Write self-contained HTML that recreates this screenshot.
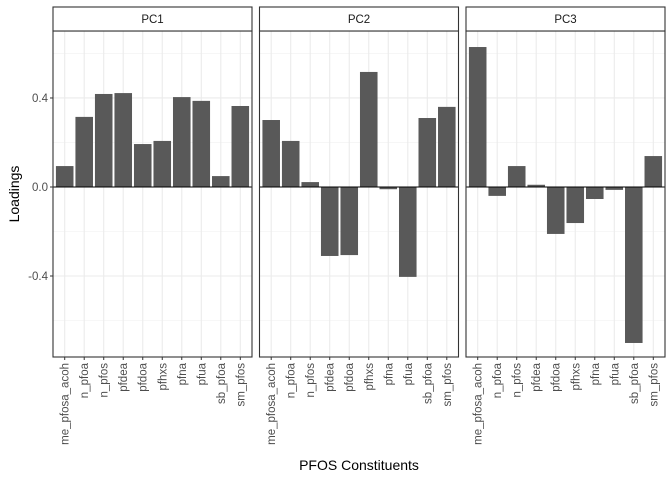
<!DOCTYPE html>
<html><head><meta charset="utf-8"><style>
body{margin:0;background:#fff}
text{font-family:"Liberation Sans",sans-serif}
</style></head><body>
<svg id="c" width="672" height="480" xmlns="http://www.w3.org/2000/svg"></svg>
<script>
const categories=["me_pfosa_acoh","n_pfoa","n_pfos","pfdea","pfdoa","pfhxs","pfna","pfua","sb_pfoa","sm_pfos"];
const panels=["PC1","PC2","PC3"];
const pc1=[0.094,0.315,0.418,0.422,0.193,0.207,0.404,0.387,0.049,0.364];
const pc2=[0.301,0.207,0.022,-0.310,-0.306,0.517,-0.010,-0.404,0.310,0.360];
const pc3=[0.629,-0.040,0.094,0.010,-0.211,-0.162,-0.054,-0.013,-0.701,0.139];
const series=[pc1,pc2,pc3];
const yTicks=[-0.4,0.0,0.4];
const yTickLabels=["-0.4","0.0","0.4"];
const yMinor=[-0.6,-0.2,0.2,0.6];
const NS="http://www.w3.org/2000/svg";
const svg=document.getElementById('c');
function mk(t,a,p){const e=document.createElementNS(NS,t);for(const k in a)e.setAttribute(k,a[k]);(p||svg).appendChild(e);return e;}
const plotTop=31,plotBot=357,yMax=0.701,yMin=-0.764;
function y(v){return plotTop+(yMax-v)/(yMax-yMin)*(plotBot-plotTop);}
const pLeft=[53,259.5,466],pW=199;
function x(p,i){const bw=pW/10.2;return pLeft[p]+bw*(0.6+i);}
panels.forEach((name,p)=>{
  const g=mk('g',{});
  
  
  const L=pLeft[p],R=L+pW;
  yMinor.forEach(v=>mk('line',{x1:L,x2:R,y1:y(v),y2:y(v),stroke:'#f0f0f0','stroke-width':0.6},g));
  categories.forEach((c,i)=>mk('line',{x1:x(p,i),x2:x(p,i),y1:plotTop,y2:plotBot,stroke:'#ebebeb','stroke-width':1.1},g));
  yTicks.forEach(v=>mk('line',{x1:L,x2:R,y1:y(v),y2:y(v),stroke:'#ebebeb','stroke-width':1.1},g));
  const bw=pW/10.2*0.9;
  series[p].forEach((v,i)=>{
    const r=mk('rect',{x:x(p,i)-bw/2,y:Math.min(y(v),y(0)),width:bw,height:Math.abs(y(v)-y(0)),fill:'#595959'},g);
    
    
  });
  mk('line',{x1:L,x2:R,y1:y(0),y2:y(0),stroke:'#000','stroke-width':1},g);
  mk('rect',{x:L,y:plotTop,width:pW,height:plotBot-plotTop,fill:'none',stroke:'#333','stroke-width':1.1},g);
  const s=mk('rect',{x:L,y:7,width:pW,height:24,fill:'#fff',stroke:'#333','stroke-width':1.1},g);
  
  
  const st=mk('text',{x:L+pW/2,y:23,'text-anchor':'middle','font-size':11.5,fill:'#1a1a1a'},g);st.textContent=name;
  categories.forEach((c,i)=>{
    mk('line',{x1:x(p,i),x2:x(p,i),y1:plotBot,y2:plotBot+3,stroke:'#333','stroke-width':1},g);
    const t=mk('text',{transform:`translate(${x(p,i)+4},${plotBot+6}) rotate(-90)`,'text-anchor':'end','font-size':11.5,fill:'#4d4d4d'},g);
    
    
    t.textContent=c;
  });
});
yTicks.forEach((v,i)=>{
  mk('line',{x1:50,x2:53,y1:y(v),y2:y(v),stroke:'#333','stroke-width':1});
  const t=mk('text',{x:48,y:y(v)+4,'text-anchor':'end','font-size':11.5,fill:'#4d4d4d'});
  
  
  t.textContent=yTickLabels[i];
});
const yt=mk('text',{transform:'translate(19,194) rotate(-90)','text-anchor':'middle','font-size':14,fill:'#000'});


yt.textContent='Loadings';
const xt=mk('text',{x:359,y:470,'text-anchor':'middle','font-size':14,fill:'#000'});


xt.textContent='PFOS Constituents';
</script>
</body></html>
